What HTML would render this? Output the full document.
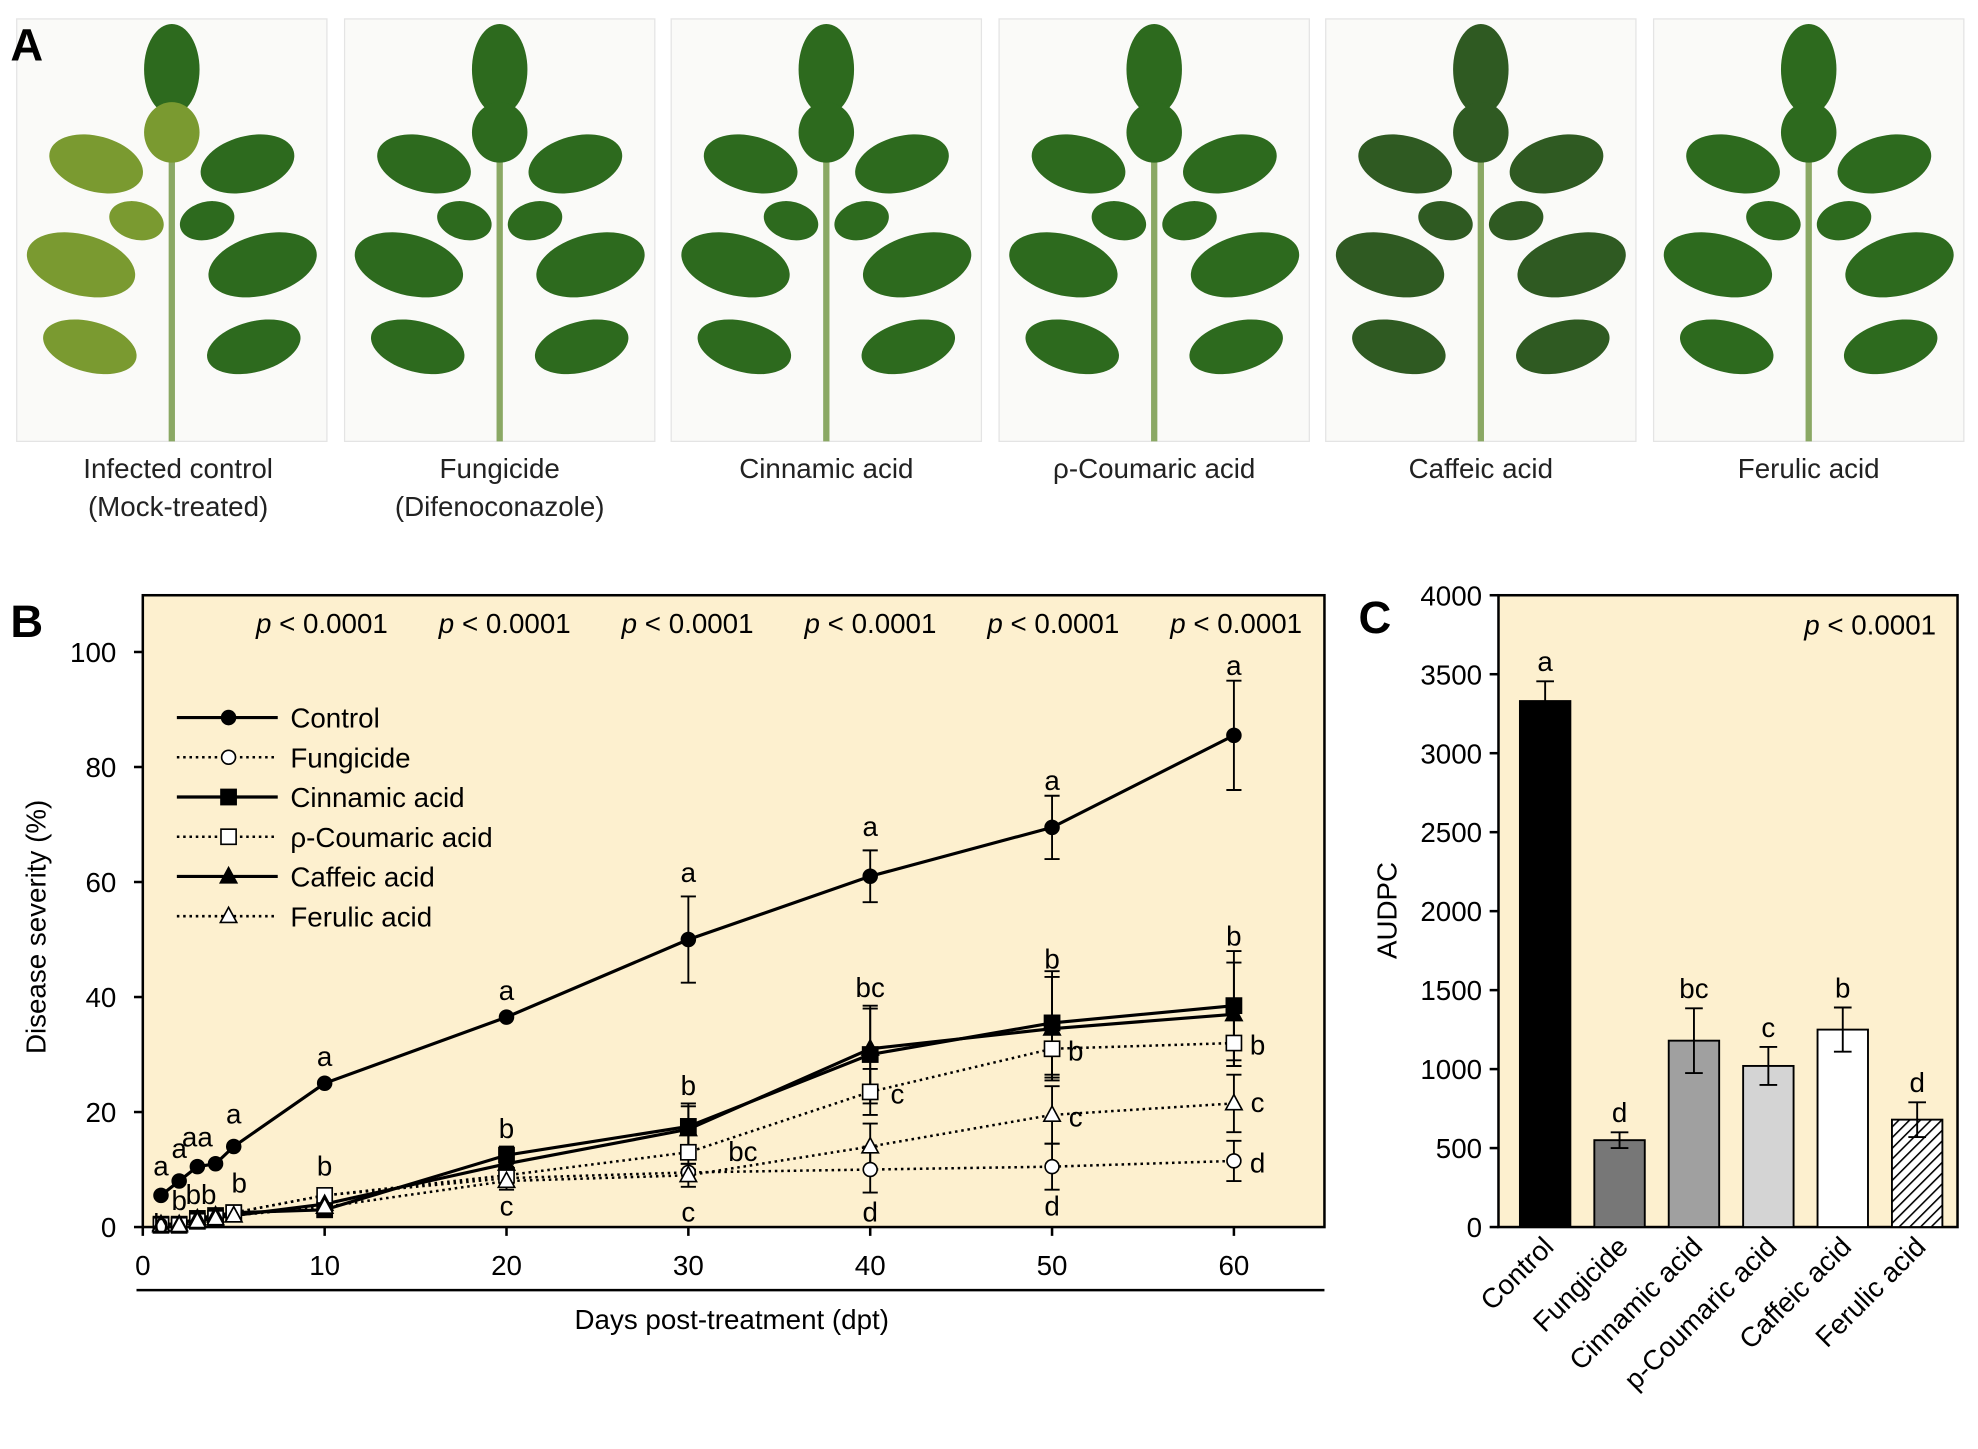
<!DOCTYPE html>
<html><head><meta charset="utf-8"><style>body{margin:0;background:#fff}svg{display:block}</style></head>
<body>
<svg id="s" xmlns="http://www.w3.org/2000/svg" width="1978" height="1449" viewBox="0 0 1568 1149" font-family="Liberation Sans, Arial, sans-serif">
<defs><pattern id="h" width="6" height="6" patternUnits="userSpaceOnUse" patternTransform="rotate(45)"><rect width="6" height="6" fill="#fff"/><line x1="0" y1="0" x2="0" y2="6" stroke="#000" stroke-width="2.5"/></pattern></defs>
</svg>
<script>
const s=document.getElementById('s');let o='';
// Panel A
const px=[13,273,532,792,1051,1311];
const labs=[["Infected control","(Mock-treated)"],["Fungicide","(Difenoconazole)"],["Cinnamic  acid"],["ρ-Coumaric acid"],["Caffeic  acid"],["Ferulic acid"]];
px.forEach((x,i)=>{o+=`<rect x="${x}" y="15" width="246" height="335" fill="#fafaf8" stroke="#e4e4e4"/>`;
 const cx=x+123, dark=i==4?'#2f5a22':'#2d6a1e', yl=i==0;
 o+=`<line x1="${cx}" y1="40" x2="${cx}" y2="350" stroke="#8aa864" stroke-width="5"/>`;
 const leaves=[[0,40,22,36],[-60,115,38,22],[60,115,38,22],[-72,195,44,24],[72,195,44,24],[-65,260,38,20],[65,260,38,20],[-28,160,22,15],[28,160,22,15],[0,90,22,24]];
 leaves.forEach((l,j)=>{o+=`<ellipse cx="${cx+l[0]}" cy="${l[1]+15}" rx="${l[2]}" ry="${l[3]}" fill="${yl&&j%2?'#7a9a30':dark}" transform="rotate(${l[0]>0?-15:l[0]<0?15:0} ${cx+l[0]} ${l[1]+15})"/>`});
 labs[i].forEach((t,k)=>{o+=`<text x="${cx+(i==0?5:0)}" y="${379+k*30}" font-size="22" text-anchor="middle" fill="#222">${t}</text>`});
});
o+='<text x="8" y="48" font-size="36" font-weight="bold">A</text>';
// Panel B
const X=d=>113+d*14.42, Y=v=>973-v*4.56;
o+='<rect x="113" y="472" width="937" height="501" fill="#fdf0cf" stroke="#000" stroke-width="2"/>';
o+='<text x="8" y="505" font-size="36" font-weight="bold">B</text>';
[0,20,40,60,80,100].forEach(v=>{o+=`<line x1="106" y1="${Y(v)}" x2="113" y2="${Y(v)}" stroke="#000" stroke-width="2"/><text x="92" y="${Y(v)+8}" font-size="22" text-anchor="end">${v}</text>`});
[0,10,20,30,40,50,60].forEach(d=>{o+=`<line x1="${X(d)}" y1="973" x2="${X(d)}" y2="980" stroke="#000" stroke-width="2"/><text x="${X(d)}" y="1011" font-size="22" text-anchor="middle">${d}</text>`});
o+='<line x1="108" y1="1023" x2="1050" y2="1023" stroke="#000" stroke-width="2"/>';
o+='<text x="580" y="1054" font-size="22" text-anchor="middle">Days post-treatment  (dpt)</text>';
o+='<text transform="translate(36 735) rotate(-90)" font-size="22" text-anchor="middle">Disease severity (%)</text>';
for(let i=0;i<6;i++)o+=`<text x="${255+i*145}" y="502" font-size="22" text-anchor="middle"><tspan font-style="italic">p</tspan> &lt; 0.0001</text>`;
const D=[1,2,3,4,5,10,20,30,40,50,60];
const ser=[
 {n:"Control",d:[5.5,8,10.5,11,14,25,36.5,50,61,69.5,85.5],e:[0,0,0,0,0,0,0,7.5,4.5,5.5,9.5],m:'c',f:'#000',dash:''},
 {n:"Fungicide",d:[0.3,0.3,1,2,2.5,5.5,8.5,9.5,10,10.5,11.5],e:[0,0,0,0,0,0,1,1.5,4,4,3.5],m:'c',f:'#fff',dash:'2,3'},
 {n:"Cinnamic acid",d:[0.5,0.5,1.5,2,2.5,3,12.5,17.5,30,35.5,38.5],e:[0,0,0,0,0,0,1.5,4,8.5,9,9.5],m:'s',f:'#000',dash:''},
 {n:"ρ-Coumaric acid",d:[0.3,0.3,1,1.5,2.5,5.5,9,13,23.5,31,32],e:[0,0,0,0,0,0,1.5,3,4,5,4],m:'s',f:'#fff',dash:'2,3'},
 {n:"Caffeic acid",d:[0.5,0.5,1.5,2,2,4,11,17,31,34.5,37],e:[0,0,0,0,0,0,1.5,4,7,9,9],m:'t',f:'#000',dash:''},
 {n:"Ferulic acid",d:[0.3,0.3,1,1.5,2,3.5,8,9,14,19.5,21.5],e:[0,0,0,0,0,0,1.5,2,4,5,5],m:'t',f:'#fff',dash:'2,3'}];
const mk=(m,x,y,f)=>m=='c'?`<circle cx="${x}" cy="${y}" r="5.5" fill="${f}" stroke="#000" stroke-width="1.3"/>`:m=='s'?`<rect x="${x-6}" y="${y-6}" width="12" height="12" fill="${f}" stroke="#000" stroke-width="1.3"/>`:`<polygon points="${x},${y-7} ${x-6.5},${y+5} ${x+6.5},${y+5}" fill="${f}" stroke="#000" stroke-width="1.3"/>`;
ser.forEach(S=>{S.d.forEach((v,i)=>{if(S.e[i]){const x=X(D[i]);o+=`<path d="M${x} ${Y(v-S.e[i])}V${Y(v+S.e[i])}M${x-6} ${Y(v-S.e[i])}h12M${x-6} ${Y(v+S.e[i])}h12" stroke="#000" stroke-width="1.5"/>`}});
 o+=`<polyline points="${S.d.map((v,i)=>X(D[i])+','+Y(v)).join(' ')}" fill="none" stroke="#000" stroke-width="${S.dash?2:2.5}" stroke-dasharray="${S.dash}"/>`;});
ser.forEach(S=>S.d.forEach((v,i)=>o+=mk(S.m,X(D[i]),Y(v),S.f)));
ser.forEach((S,i)=>{const y=569+i*31.5;o+=`<line x1="140" y1="${y}" x2="220" y2="${y}" stroke="#000" stroke-width="${S.dash?2:2.5}" stroke-dasharray="${S.dash}"/>`+mk(S.m,181,y,S.f)+`<text x="230" y="${y+8}" font-size="22">${S.n}</text>`});
const L=[[1,9,'a'],[2,12,'a'],[3,14,'aa'],[5,18,'a'],[1,-1,'b'],[2,3,'b'],[3.2,4,'bb'],[5.3,6,'b'],[10,28,'a'],[10,9,'b'],[20,39.5,'a'],[20,15.5,'b'],[20,2,'c'],[30,60,'a'],[30,23,'b'],[30,1,'c'],[33,11.5,'bc'],[40,68,'a'],[40,40,'bc'],[40,1,'d'],[41.5,21.5,'c'],[50,76,'a'],[50,45,'b'],[51.3,29,'b'],[51.3,17.5,'c'],[50,2,'d'],[60,96,'a'],[60,49,'b'],[61.3,30,'b'],[61.3,20,'c'],[61.3,9.5,'d']];
L.forEach(l=>o+=`<text x="${X(l[0])}" y="${Y(l[1])}" font-size="22" text-anchor="middle">${l[2]}</text>`);
// Panel C
const CY=v=>973-v*0.12525;
o+='<rect x="1188" y="472" width="364" height="501" fill="#fdf0cf" stroke="#000" stroke-width="2"/>';
o+='<text x="1077" y="502" font-size="36" font-weight="bold">C</text>';
for(let v=0;v<=4000;v+=500)o+=`<line x1="1181" y1="${CY(v)}" x2="1188" y2="${CY(v)}" stroke="#000" stroke-width="2"/><text x="1175" y="${CY(v)+8}" font-size="22" text-anchor="end">${v}</text>`;
o+='<text transform="translate(1107 722) rotate(-90)" font-size="22" text-anchor="middle">AUDPC</text>';
o+='<text x="1535" y="503" font-size="22" text-anchor="end"><tspan font-style="italic">p</tspan> &lt; 0.0001</text>';
const B=[["Control",3330,125,'#000','a'],["Fungicide",550,50,'#777','d'],["Cinnamic acid",1180,205,'#a0a0a0','bc'],["p-Coumaric acid",1020,120,'#d4d4d4','c'],["Caffeic acid",1250,140,'#fff','b'],["Ferulic acid",680,110,'url(#h)','d']];
B.forEach((b,i)=>{const cx=1225+i*59;o+=`<rect x="${cx-20}" y="${CY(b[1])}" width="40" height="${973-CY(b[1])}" fill="${b[3]}" stroke="#000" stroke-width="1.5"/>`;
 o+=`<path d="M${cx} ${CY(b[1]-b[2])}V${CY(b[1]+b[2])}M${cx-7} ${CY(b[1]-b[2])}h14M${cx-7} ${CY(b[1]+b[2])}h14" stroke="#000" stroke-width="1.5"/>`;
 o+=`<text x="${cx}" y="${CY(b[1]+b[2])-8}" font-size="22" text-anchor="middle">${b[4]}</text>`;
 o+=`<text transform="translate(${cx+8} 990) rotate(-45)" font-size="22" text-anchor="end">${b[0]}</text>`;});
s.insertAdjacentHTML('beforeend',o);
</script>
</body></html>
